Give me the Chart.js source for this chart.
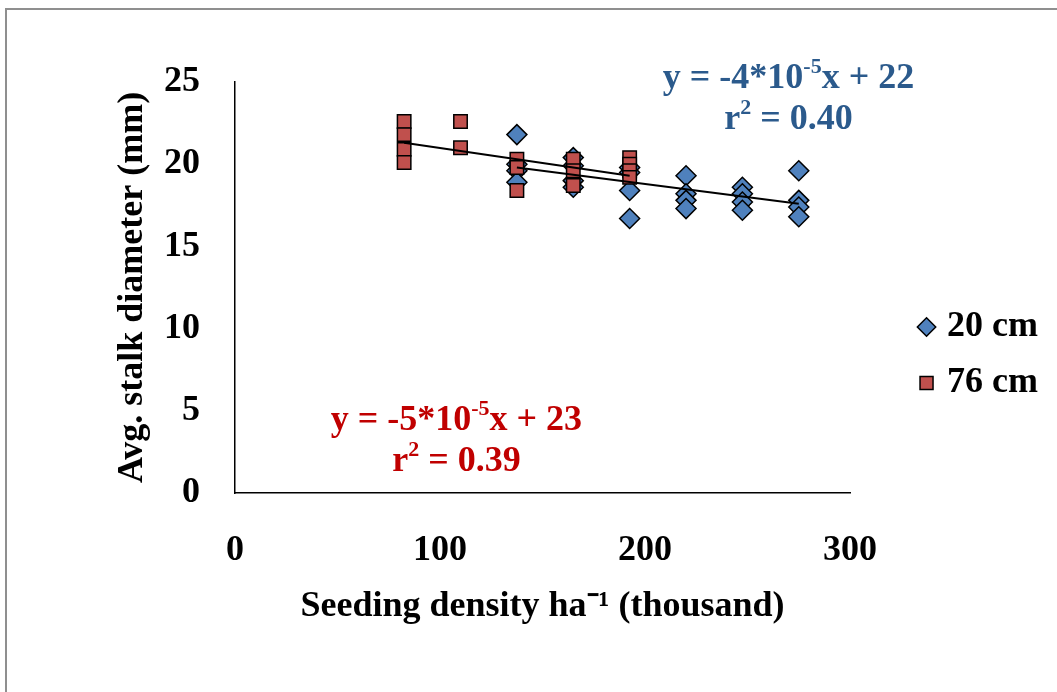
<!DOCTYPE html>
<html>
<head>
<meta charset="utf-8">
<script src="https://cdn.jsdelivr.net/npm/chart.js@4"></script>
<style>
  body { margin: 0; background: #fff; }
  #frame { position: absolute; left: 5px; top: 8px; width: 1060px; height: 700px;
           border-left: 2px solid #8f8f8f; border-top: 2px solid #8f8f8f; }
  #wrap { position: absolute; left: 0; top: 0; width: 1057px; height: 692px; }
</style>
</head>
<body>
<div id="frame"></div>
<div id="wrap"><canvas id="myChart1"></canvas></div>
<script>
// seeding density (thousand ha-1) and stalk diameter (mm) per row spacing
const density20 = [137.5, 165, 192.5, 220, 247.5, 275];
const diam20 = [
    [21.8, 20.0, 19.6, 18.9],
    [20.4, 19.9, 19.0, 18.6],
    [19.8, 19.5, 18.4, 16.7],
    [19.3, 18.2, 17.8, 17.3],
    [18.6, 18.2, 17.7, 17.2],
    [19.6, 17.8, 17.4, 16.8]
];
const density76 = [82.5, 110, 137.5, 165, 192.5];
const diam76 = [
    [22.6, 21.8, 20.9, 20.1],
    [22.6, 21.0],
    [20.3, 19.8, 18.4],
    [20.3, 19.6, 18.7],
    [20.4, 20.0, 19.6, 19.2]
];

// fitted lines (end points)
const trend20X = [137.5, 275];
const trend20Y = [19.8, 17.6];
const trend76X = [82.5, 192.5];
const trend76Y = [21.3, 19.3];

const xTicks = [0, 100, 200, 300];
const yTicks = [0, 5, 10, 15, 20, 25];

// equation labels: [text, superscript, rest], anchored in data units
const eq20 = ['y = -4*10', '-5', 'x + 22'];
const r20 = ['r', '2', ' = 0.40'];
const eq76 = ['y = -5*10', '-5', 'x + 23'];
const r76 = ['r', '2', ' = 0.39'];
const eq20Pos = [270, 25.2, 270, 22.7];
const eq76Pos = [108, 4.4, 108, 1.9];

const FONT = "'Liberation Serif', 'Times New Roman', serif";
Chart.defaults.font.family = FONT;
Chart.defaults.font.weight = 'bold';
Chart.defaults.font.size = 36;
Chart.defaults.color = '#000';

function toPoints(xs, ys) {
    const pts = [];
    xs.forEach((x, i) => {
        [].concat(ys[i]).forEach(v => pts.push({x: x, y: v}));
    });
    return pts;
}

function drawRich(c, parts, cx, cy, color) {
    const main = 'bold 36px ' + FONT;
    const sup = 'bold 22px ' + FONT;
    c.save();
    c.fillStyle = color;
    c.textBaseline = 'middle';
    c.textAlign = 'left';
    const fonts = [main, sup, main];
    let total = 0;
    parts.forEach((t, i) => { c.font = fonts[i]; total += c.measureText(t).width; });
    let px = cx - total / 2;
    parts.forEach((t, i) => {
        c.font = fonts[i];
        c.fillText(t, px, i === 1 ? cy - 11 : cy);
        px += c.measureText(t).width;
    });
    c.restore();
}

const equations = {
    id: 'equations',
    afterDatasetsDraw(chart) {
        const c = chart.ctx;
        const sx = chart.scales.x, sy = chart.scales.y;
        const put = (parts, px, py, color) =>
            drawRich(c, parts, sx.getPixelForValue(px), sy.getPixelForValue(py), color);
        put(eq20, eq20Pos[0], eq20Pos[1], '#2B5A8C');
        put(r20, eq20Pos[2], eq20Pos[3], '#2B5A8C');
        put(eq76, eq76Pos[0], eq76Pos[1], '#C00000');
        put(r76, eq76Pos[2], eq76Pos[3], '#C00000');
    }
};

const ctx = document.getElementById('myChart1');

new Chart(ctx, {
    type: 'scatter',
    data: {
        datasets: [{
            label: '20 cm',
            data: toPoints(density20, diam20),
            pointStyle: 'rectRot',
            pointRadius: 10,
            pointHoverRadius: 10,
            backgroundColor: '#4F81BD',
            borderColor: '#000',
            borderWidth: 1.5,
            order: 2
        }, {
            label: '76 cm',
            data: toPoints(density76, diam76),
            pointStyle: 'rect',
            pointRadius: 9.5,
            pointHoverRadius: 9.5,
            backgroundColor: '#C0504D',
            borderColor: '#000',
            borderWidth: 1.5,
            order: 1
        }, {
            label: 'trend20',
            data: toPoints(trend20X, trend20Y),
            showLine: true,
            pointRadius: 0,
            borderColor: '#000',
            borderWidth: 2,
            order: 0
        }, {
            label: 'trend76',
            data: toPoints(trend76X, trend76Y),
            showLine: true,
            pointRadius: 0,
            borderColor: '#000',
            borderWidth: 2,
            order: 0
        }]
    },
    options: {
        responsive: true,
        maintainAspectRatio: false,
        animation: false,
        layout: {
            padding: {top: 82, left: 100, right: 9, bottom: 64}
        },
        plugins: {
            tooltip: {enabled: false},
            legend: {
                position: 'right',
                labels: {
                    usePointStyle: true,
                    boxWidth: 5,
                    boxHeight: 13,
                    padding: 20,
                    font: {size: 36, weight: 'bold'},
                    filter: item => item.text.indexOf('trend') !== 0,
                    sort: (a, b) => a.datasetIndex - b.datasetIndex
                }
            }
        },
        scales: {
            x: {
                type: 'linear',
                min: 0,
                max: 300,
                afterBuildTicks: s => { s.ticks = xTicks.map(v => ({value: v})); },
                grid: {display: false, drawTicks: false},
                border: {display: true, color: '#000', width: 1.5},
                ticks: {padding: 36},
                title: {
                    display: true,
                    text: 'Seeding density ha\u207B\u00B9 (thousand)',
                    padding: 0
                },
                afterFit: s => { s.height = 135; }
            },
            y: {
                type: 'linear',
                min: 0,
                max: 25,
                afterBuildTicks: s => { s.ticks = yTicks.map(v => ({value: v})); },
                grid: {display: false, drawTicks: false},
                border: {display: true, color: '#000', width: 1.5},
                ticks: {padding: 35},
                title: {
                    display: true,
                    text: 'Avg. stalk diameter (mm)',
                    padding: {top: 11}
                },
                afterFit: s => { s.width = 135; }
            },
            yPad: {
                type: 'linear',
                position: 'right',
                display: true,
                grid: {display: false, drawTicks: false},
                border: {display: false},
                ticks: {display: false},
                afterFit: s => { s.width = 54; }
            }
        }
    },
    plugins: [equations]
});
</script>
</body>
</html>
